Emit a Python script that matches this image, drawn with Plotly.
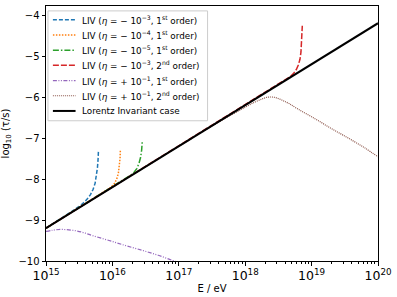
import plotly.graph_objects as go

# log10(E/eV) and log10(tau/s)
li_logE = [15.0, 20.0]
li_logtau = [-9.2, -4.2]

blue_logE = [15.0, 15.40, 15.50, 15.56, 15.62, 15.67, 15.71, 15.74, 15.76, 15.775, 15.785, 15.79]
blue_logtau = [-9.2, -8.79, -8.67, -8.59, -8.49, -8.38, -8.25, -8.10, -7.92, -7.72, -7.50, -7.30]

orange_logE = [15.0, 15.85, 15.92, 15.98, 16.03, 16.065, 16.09, 16.105, 16.115, 16.12]
orange_logtau = [-9.2, -8.35, -8.27, -8.20, -8.11, -8.00, -7.86, -7.70, -7.50, -7.30]

green_logE = [15.0, 16.14, 16.22, 16.28, 16.33, 16.37, 16.40, 16.425, 16.44, 16.45]
green_logtau = [-9.2, -8.06, -7.97, -7.90, -7.83, -7.74, -7.62, -7.47, -7.30, -7.08]

red_logE = [15.0, 18.56, 18.62, 18.68, 18.73, 18.77, 18.80, 18.825, 18.84, 18.85, 18.86]
red_logtau = [-9.2, -5.64, -5.57, -5.50, -5.42, -5.33, -5.22, -5.08, -4.90, -4.65, -4.26]

purple_logE = [15.0, 15.10, 15.23, 15.40, 15.55, 15.70, 15.95, 16.19, 16.45, 16.69, 16.93, 17.2]
purple_logtau = [-9.28, -9.25, -9.23, -9.25, -9.30, -9.38, -9.50, -9.62, -9.74, -9.86, -10.0, -10.13]

brown_logE = [15.0, 17.5, 17.8, 18.0, 18.15, 18.25, 18.32, 18.40, 18.47, 18.56, 18.66, 18.80, 19.06, 19.30, 19.55, 19.80, 20.0]
brown_logtau = [-9.2, -6.71, -6.43, -6.25, -6.12, -6.05, -6.01, -6.00, -6.02, -6.08, -6.16, -6.30, -6.54, -6.77, -7.00, -7.24, -7.46]

series_names = [
    "LIV (<i>η</i> = − 10<sup>−3</sup>, 1<sup>st</sup> order)",
    "LIV (<i>η</i> = − 10<sup>−4</sup>, 1<sup>st</sup> order)",
    "LIV (<i>η</i> = − 10<sup>−5</sup>, 1<sup>st</sup> order)",
    "LIV (<i>η</i> = − 10<sup>−3</sup>, 2<sup>nd</sup> order)",
    "LIV (<i>η</i> = + 10<sup>−1</sup>, 1<sup>st</sup> order)",
    "LIV (<i>η</i> = + 10<sup>−1</sup>, 2<sup>nd</sup> order)",
    "Lorentz Invariant case",
]

styles = [
    ("#1f77b4", "4px,2px", 1.5, "linear"),
    ("#ff7f0e", "1.5px,1.5px", 1.5, "linear"),
    ("#2ca02c", "6px,2px,1.5px,2px", 1.5, "linear"),
    ("#d62728", "6px,2px", 1.5, "linear"),
    ("#9467bd", "4px,1.5px,1px,1.5px,1px,1.5px", 1.2, "spline"),
    ("#8c564b", "1px,1px", 1.2, "spline"),
    ("black", "solid", 2, "linear"),
]
data = [(blue_logE, blue_logtau), (orange_logE, orange_logtau), (green_logE, green_logtau),
        (red_logE, red_logtau), (purple_logE, purple_logtau), (brown_logE, brown_logtau),
        (li_logE, li_logtau)]

fig = go.Figure()
for name, (lx, ly), (col, dash, w, shape) in zip(series_names, data, styles):
    fig.add_trace(go.Scatter(x=[10 ** v for v in lx], y=ly, mode="lines", name=name,
                             showlegend=False,
                             line=dict(color=col, dash=dash, width=w, shape=shape)))

# hand-drawn legend box (pixel layout converted to paper coordinates)
L, R, T, B = 43, 380, 5, 265
def px(x):
    return (x - L) / (R - L)
def py(y):
    return (B - y) / (B - T)

shapes = [dict(type="rect", xref="paper", yref="paper", x0=px(45), x1=px(207), y0=py(122), y1=py(10),
               fillcolor="rgba(255,255,255,0.8)", line=dict(color="#cccccc", width=1), layer="above")]
annotations = []
for i, (name, (col, dash, w, shape)) in enumerate(zip(series_names, styles)):
    yrow = 19 + 15.5 * i
    shapes.append(dict(type="line", xref="paper", yref="paper", x0=px(50), x1=px(73),
                       y0=py(yrow), y1=py(yrow), layer="above",
                       line=dict(color=col, dash=dash, width=w)))
    annotations.append(dict(x=px(78), y=py(yrow), xref="paper", yref="paper", text=name,
                            showarrow=False, xanchor="left", yanchor="middle",
                            font=dict(size=8.8)))

fig.update_layout(
    width=397, height=297,
    margin=dict(l=43, r=17, t=5, b=32),
    paper_bgcolor="white", plot_bgcolor="white",
    font=dict(family="DejaVu Sans", size=10, color="black"),
    showlegend=False,
    shapes=shapes,
    annotations=annotations,
)
fig.update_xaxes(type="log", range=[15, 20], dtick=1, exponentformat="power",
                 showgrid=False, zeroline=False, showline=True, linecolor="black", linewidth=1,
                 mirror=True, ticks="outside", ticklen=3.5, tickcolor="black",
                 minor=dict(ticks="outside", ticklen=2, tickcolor="black", dtick="D1", showgrid=False),
                 title=dict(text="E / eV", standoff=2, font=dict(size=10)))
fig.update_yaxes(range=[-10, -3.78], dtick=1, tick0=-10,
                 showgrid=False, zeroline=False, showline=True, linecolor="black", linewidth=1,
                 mirror=True, ticks="outside", ticklen=3.5, tickcolor="black",
                 title=dict(text="log<sub>10</sub> (τ/s)", standoff=6, font=dict(size=10)))

fig.write_html("out.html", config={"displayModeBar": False},
               post_script="document.body.style.margin='0';")
